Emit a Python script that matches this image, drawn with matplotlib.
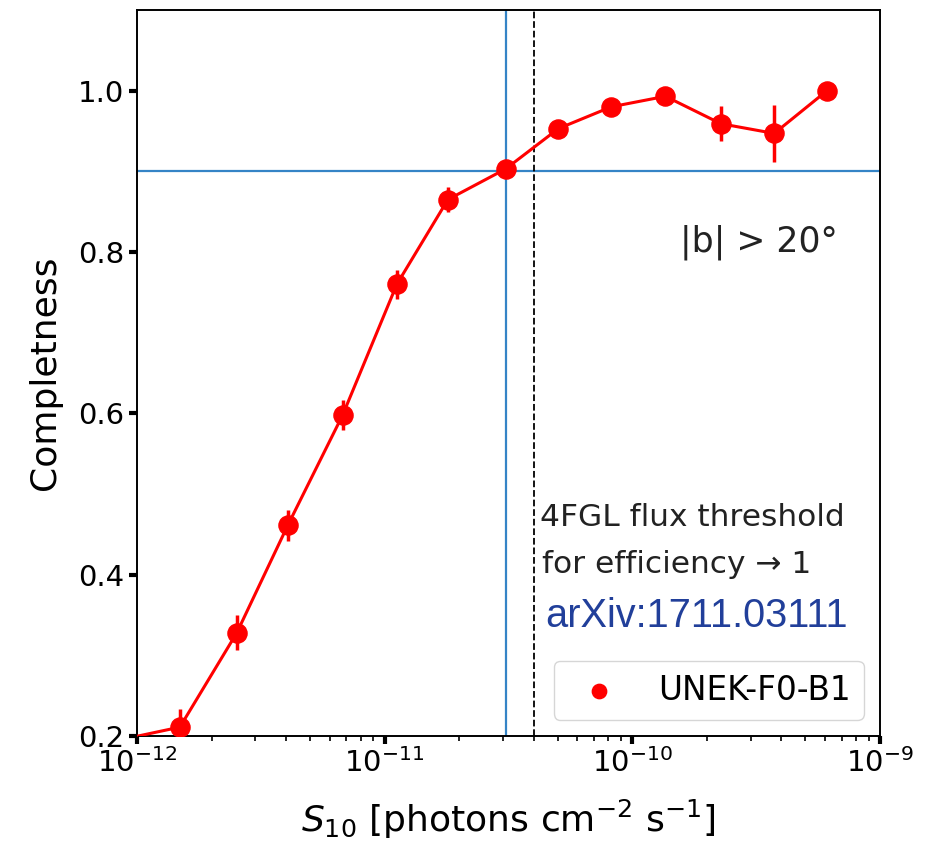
import matplotlib
matplotlib.use("Agg")
import matplotlib.pyplot as plt

# data
flux = [9.1e-13, 1.49e-12, 2.53e-12, 4.06e-12, 6.77e-12, 1.12e-11, 1.80e-11,
        3.08e-11, 5.03e-11, 8.23e-11, 1.36e-10, 2.28e-10, 3.74e-10, 6.11e-10]
completeness = [0.197, 0.211, 0.328, 0.461, 0.598, 0.760, 0.865,
                0.903, 0.953, 0.980, 0.993, 0.959, 0.947, 1.0]
err = [0.02, 0.022, 0.022, 0.019, 0.019, 0.018, 0.015,
       0.010, 0.006, 0.005, 0.005, 0.022, 0.035, 0.0]
flux_90 = 3.1e-11
comp_level = 0.9
fgl_threshold = 4.0e-11
label = "UNEK-F0-B1"

fig = plt.figure(figsize=(9.32, 8.56), dpi=100)
ax = fig.add_axes([137/932, 1-736/856, 743/932, 726/856])

ax.errorbar(flux, completeness, yerr=err, fmt='none', ecolor='red', elinewidth=2.5, zorder=3)
ax.plot(flux, completeness, '-', color='red', lw=2.2, zorder=3)
ax.scatter(flux, completeness, s=190, color='red', zorder=4, label=label)

ax.axvline(flux_90, color='#3584c6', lw=1.6, zorder=2)
ax.axhline(comp_level, color='#3584c6', lw=1.6, zorder=2)
ax.axvline(fgl_threshold, color='black', ls='--', lw=1.3, zorder=2)

ax.set_xscale('log')
ax.set_xlim(1e-12, 1e-9)
ax.set_ylim(0.2, 1.1)
ax.set_yticks([0.2, 0.4, 0.6, 0.8, 1.0])

ax.tick_params(axis='both', which='major', labelsize=21, length=5.5, width=3)
ax.tick_params(axis='both', which='minor', length=3.5, width=1.2)
for s in ax.spines.values():
    s.set_linewidth(1.4)

ax.set_xlabel(r"$S_{10}$ [photons cm$^{-2}$ s$^{-1}$]", fontsize=26, labelpad=14)
ax.set_ylabel("Completness", fontsize=26, labelpad=12)

ax.text(0.731, 0.667, "|b| > 20°", transform=ax.transAxes, fontsize=25, va='baseline', color='#222222')
ax.text(0.542, 0.289, "4FGL flux threshold", transform=ax.transAxes, fontsize=22.5, va='baseline', color='#222222')
ax.text(0.545, 0.2245, "for efficiency → 1", transform=ax.transAxes, fontsize=22.5, va='baseline', color='#222222')
ax.text(0.550, 0.150, "arXiv:1711.03111", transform=ax.transAxes, fontsize=28.6, va='baseline',
        color='#213f9a', family='Liberation Sans')

ax.legend(loc='lower right', fontsize=23.5, handletextpad=0.8, markerscale=0.75)

fig.savefig("out.png", dpi=100)
